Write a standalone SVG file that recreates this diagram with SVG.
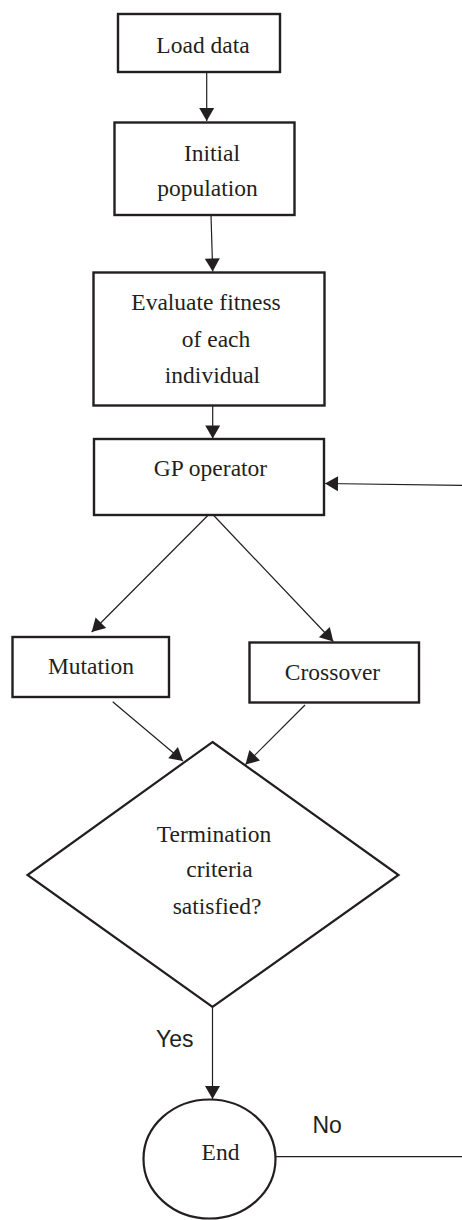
<svg xmlns="http://www.w3.org/2000/svg" width="462" height="1220" viewBox="0 0 462 1220">
<style>
.box{fill:#fff;stroke:#231f20;stroke-width:2.4}
.shape{fill:#fff;stroke:#231f20;stroke-width:2.2}
.lbl{font-family:"Liberation Serif","Times New Roman",serif;font-size:23.5px;fill:#231f20;text-anchor:middle}
.sans{font-family:"Liberation Sans",Arial,sans-serif;font-size:23px;fill:#231f20}
.edge{fill:none;stroke:#231f20;stroke-width:1.2}
</style>
<defs>
<marker id="arr" markerUnits="userSpaceOnUse" markerWidth="16" markerHeight="16" viewBox="0 0 14 16" refX="13" refY="8" orient="auto">
<path d="M0,0.5 L13,8 L0,15.5 Z" fill="#231f20"/>
</marker>
</defs>
<rect width="462" height="1220" fill="#fff"/>
<g id="load">
<rect class="box" x="118" y="14" width="162" height="58"/>
<text class="lbl" x="203" y="53">Load data</text>
</g>
<g id="init">
<rect class="box" x="114.5" y="122.5" width="180" height="92.5"/>
<text class="lbl" x="212" y="161">Initial</text>
<text class="lbl" x="207.5" y="196">population</text>
</g>
<g id="eval">
<rect class="box" x="93.5" y="272.5" width="231" height="133"/>
<text class="lbl" x="206" y="310">Evaluate fitness</text>
<text class="lbl" x="216" y="346.5">of each</text>
<text class="lbl" x="212.5" y="382.5">individual</text>
</g>
<g id="gp">
<rect class="box" x="94" y="439" width="230" height="76"/>
<text class="lbl" x="210.5" y="476">GP operator</text>
</g>
<g id="mutation">
<rect class="box" x="12.5" y="637" width="156.5" height="60"/>
<text class="lbl" x="91" y="674">Mutation</text>
</g>
<g id="crossover">
<rect class="box" x="249.5" y="642.5" width="169.5" height="60"/>
<text class="lbl" x="332.5" y="680">Crossover</text>
</g>
<g id="decision">
<polygon class="shape" points="212.5,742 398.5,875 212.5,1007 27.5,875"/>
<text class="lbl" x="214" y="841.5">Termination</text>
<text class="lbl" x="219.5" y="877">criteria</text>
<text class="lbl" x="217" y="914">satisfied?</text>
</g>
<g id="end">
<ellipse class="shape" cx="209.5" cy="1159" rx="66" ry="59.5"/>
<text class="lbl" x="220.5" y="1159.5">End</text>
</g>
<g id="connectors">
<line class="edge" x1="206.7" y1="72" x2="206.7" y2="121" marker-end="url(#arr)"/>
<line class="edge" x1="211" y1="215" x2="212.7" y2="271.5" marker-end="url(#arr)"/>
<line class="edge" x1="212.7" y1="405.7" x2="212.7" y2="438.5" marker-end="url(#arr)"/>
<line class="edge" x1="462" y1="485.3" x2="325" y2="483.5" marker-end="url(#arr)"/>
<line class="edge" x1="208.3" y1="515" x2="91.7" y2="632" marker-end="url(#arr)"/>
<line class="edge" x1="213.3" y1="515" x2="333.3" y2="641.5" marker-end="url(#arr)"/>
<line class="edge" x1="112.7" y1="701.7" x2="183" y2="761" marker-end="url(#arr)"/>
<line class="edge" x1="305" y1="705" x2="245.5" y2="764.5" marker-end="url(#arr)"/>
<line class="edge" x1="212.5" y1="1007" x2="212.5" y2="1099" marker-end="url(#arr)"/>
<line class="edge" x1="275.5" y1="1156.7" x2="462" y2="1156.7"/>
<text class="sans" x="156" y="1046.5">Yes</text>
<text class="sans" x="312.5" y="1132.5">No</text>
</g>
</svg>
